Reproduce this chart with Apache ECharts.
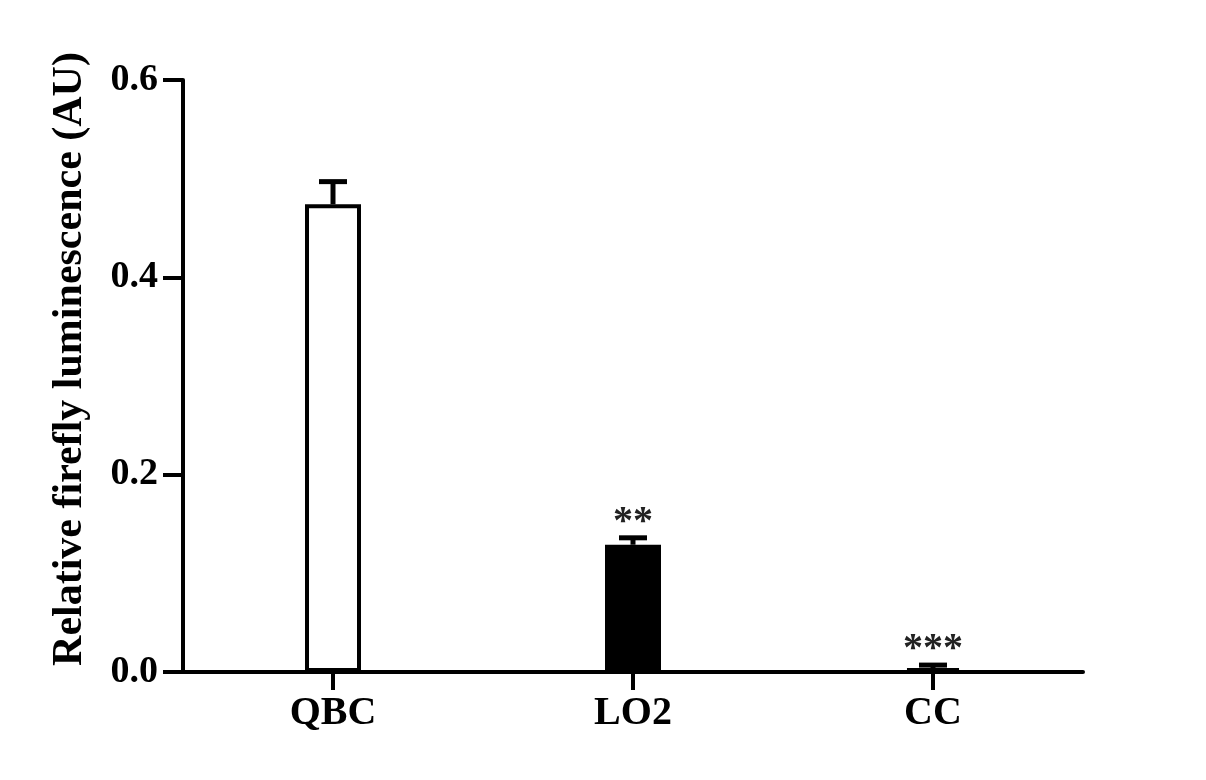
<!DOCTYPE html>
<html>
<head>
<meta charset="utf-8">
<script src="https://cdn.jsdelivr.net/npm/echarts@6/dist/echarts.min.js"></script>
<style>
html,body{margin:0;padding:0;background:#fff;}
#chart{width:1206px;height:780px;}
</style>
</head>
<body>
<div id="chart"></div>
<script>
var categories = ['QBC', 'LO2', 'CC'];
var means = [0.474, 0.129, 0.004];
var errors = [0.023, 0.007, 0.003];
var significance = ['', '**', '***'];
var barColors = ['#ffffff', '#000000', '#000000'];
var yTicks = [0, 0.2, 0.4, 0.6];

var FONT = '"Liberation Serif", "Times New Roman", serif';
var chart = echarts.init(document.getElementById('chart'));

var barData = means.map(function (v, i) {
  return { value: v, itemStyle: { color: barColors[i] } };
});
var errData = means.map(function (v, i) {
  return [i, v, v + errors[i], significance[i]];
});

chart.setOption({
  backgroundColor: '#ffffff',
  animation: false,
  grid: { left: 183, right: 123, top: 80, bottom: 108, containLabel: false },
  xAxis: {
    type: 'category',
    data: categories,
    axisLine: { show: true, lineStyle: { color: '#000', width: 4 } },
    axisTick: { show: true, alignWithLabel: true, length: 18, lineStyle: { color: '#000', width: 4 } },
    axisLabel: { color: '#000', fontFamily: FONT, fontWeight: 'bold', fontSize: 40, margin: 22 },
    splitLine: { show: false }
  },
  yAxis: {
    type: 'value',
    min: 0,
    max: 0.6,
    interval: 0.2,
    name: 'Relative firefly luminescence (AU)',
    nameLocation: 'middle',
    nameGap: 92,
    nameTextStyle: { color: '#000', fontFamily: FONT, fontWeight: 'bold', fontSize: 42, padding: [0, 0, 0, 34] },
    axisLine: { show: true, lineStyle: { color: '#000', width: 4 } },
    axisTick: { show: true, length: 20, lineStyle: { color: '#000', width: 4 } },
    axisLabel: {
      color: '#000', fontFamily: FONT, fontWeight: 'bold', fontSize: 38, margin: 25,
      formatter: function (v) { return v.toFixed(1); }
    },
    splitLine: { show: false }
  },
  series: [
    {
      type: 'bar',
      data: barData,
      barWidth: 56,
      itemStyle: { borderColor: '#000', borderWidth: 4 },
      z: 2
    },
    {
      type: 'custom',
      data: errData,
      z: 3,
      renderItem: function (params, api) {
        var x = api.value(0);
        var top = api.coord([x, api.value(2)]);
        var base = api.coord([x, api.value(1)]);
        var capHalf = 14;
        var style = { stroke: '#000', lineWidth: 5 };
        return {
          type: 'group',
          children: [
            { type: 'line', shape: { x1: top[0], y1: base[1], x2: top[0], y2: top[1] }, style: style },
            { type: 'line', shape: { x1: top[0] - capHalf, y1: top[1], x2: top[0] + capHalf, y2: top[1] }, style: style },
            {
              type: 'text',
              style: {
                text: errData[params.dataIndex][3],
                x: top[0], y: top[1] + 5,
                align: 'center', verticalAlign: 'bottom',
                fill: '#222', font: 'bold 40px ' + FONT
              }
            }
          ]
        };
      }
    }
  ]
});
</script>
</body>
</html>
